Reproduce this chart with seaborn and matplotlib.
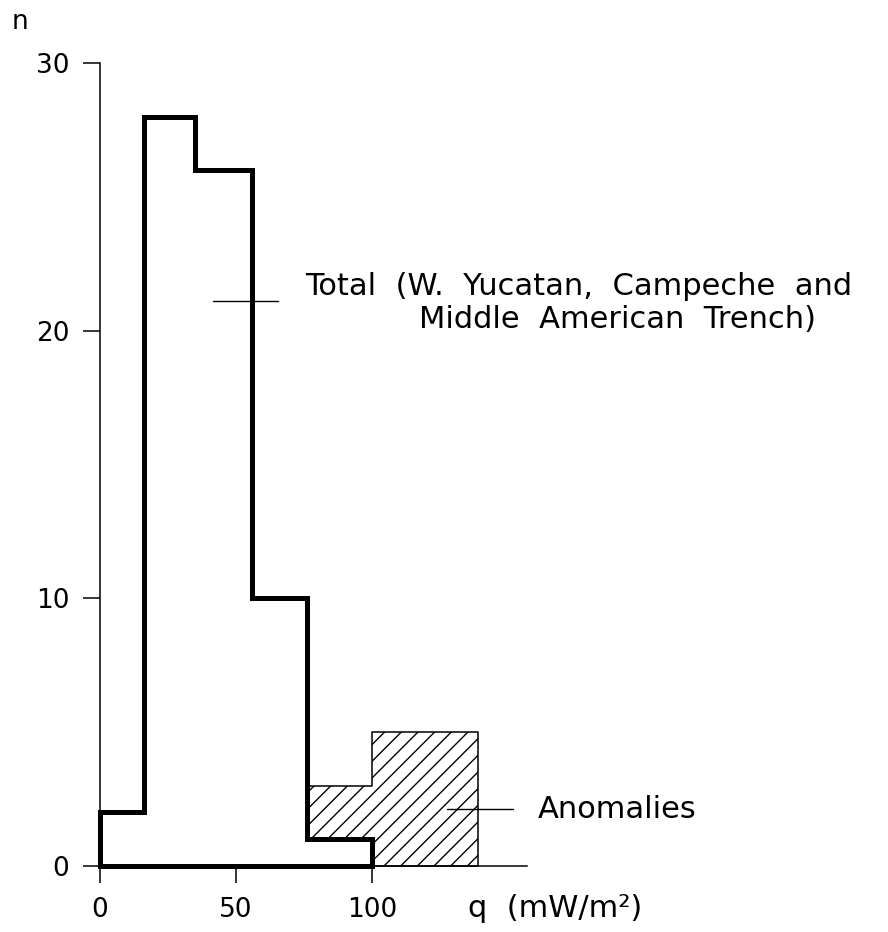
import numpy as np
import pandas as pd
import matplotlib
matplotlib.use("Agg")
import matplotlib.pyplot as plt
import seaborn as sns

# Heat-flow histogram: bin edges (mW/m^2) and number of measurements per bin
total_edges = [0, 16, 35, 56, 76, 100]
total_counts = [2, 28, 26, 10, 1]

# Anomalous values, drawn hatched behind the total histogram
anomaly_edges = [76, 100, 139]
anomaly_counts = [3, 5]

x_ticks = [0, 50, 100]
y_ticks = [0, 10, 20, 30]

total_label_1 = "Total  (W.  Yucatan,  Campeche  and"
total_label_2 = "Middle  American  Trench)"
anomaly_label = "Anomalies"
x_label = "q  (mW/m²)"
y_label = "n"


def centers(edges):
    e = np.asarray(edges, dtype=float)
    return (e[:-1] + e[1:]) / 2


total_df = pd.DataFrame({"q": centers(total_edges), "n": total_counts})
anomaly_df = pd.DataFrame({"q": centers(anomaly_edges), "n": anomaly_counts})

sns.set_style("ticks")
plt.rcParams["font.family"] = ["DejaVu Sans"]
plt.rcParams["text.color"] = "black"
plt.rcParams["hatch.linewidth"] = 1.0
plt.rcParams["hatch.color"] = "black"

fig = plt.figure(figsize=(8.88, 9.32), dpi=100)
ax = fig.add_axes([100 / 888, 66 / 932, 427 / 888, 803 / 932])

# hatched anomalies
sns.histplot(data=anomaly_df, x="q", weights="n", bins=anomaly_edges,
             element="step", fill=True, facecolor="white", edgecolor="black",
             hatch="//", linewidth=1.1, alpha=1, ax=ax, zorder=2, clip_on=False)

# total distribution, heavy outline
sns.histplot(data=total_df, x="q", weights="n", bins=total_edges,
             element="step", fill=True, facecolor="white", edgecolor="black",
             linewidth=3.6, alpha=1, ax=ax, zorder=3, clip_on=False,
             joinstyle="miter")

ax.set_xlim(0, 157)
ax.set_ylim(0, 30)
ax.set_xticks(x_ticks)
ax.set_yticks(y_ticks)
ax.set_xlabel("")
ax.set_ylabel("")
sns.despine(ax=ax)
for side in ("left", "bottom"):
    ax.spines[side].set_linewidth(1.1)
    ax.spines[side].set_color("black")
ax.tick_params(axis="both", direction="out", length=12, width=1.1,
               pad=10, labelsize=19, colors="black")

# labels with leader lines
ax.plot([41.6, 65.5], [21.1, 21.1], color="black", lw=1.0, zorder=4,
        clip_on=False)
ax.text(75.4, 21.33, total_label_1, fontsize=22, ha="left", va="baseline",
        color="black")
ax.text(117.4, 20.10, total_label_2, fontsize=22, ha="left", va="baseline",
        color="black")

ax.plot([127.7, 152.0], [2.13, 2.13], color="black", lw=1.0, zorder=4,
        clip_on=False)
ax.text(160.8, 1.79, anomaly_label, fontsize=22, ha="left", va="baseline",
        color="black")

ax.text(135.4, -1.9, x_label, fontsize=22, ha="left", va="baseline",
        color="black")
fig.text(20 / 888, 1 - 22 / 932, y_label, fontsize=19, ha="center",
         va="center", color="black")

fig.savefig("out.png", dpi=100)
